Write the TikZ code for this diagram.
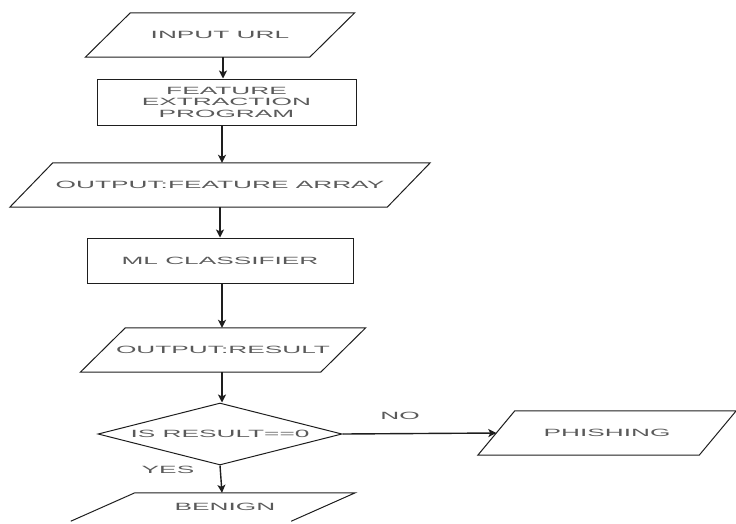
\documentclass[tikz,border=0pt]{standalone}
\usepackage{fontspec}
\setmainfont[FakeStretch=2.5]{Liberation Sans}
\usetikzlibrary{arrows.meta,shapes.geometric}
\definecolor{txt}{HTML}{5A5A5A}
\definecolor{ln}{HTML}{1E1E1E}
\tikzset{
  base/.style={inner sep=0pt, text=txt, align=center,
    font=\fontsize{10.5}{11.5}\selectfont},
  box/.style={base, draw=ln, line width=1pt, rectangle},
  io/.style={base, rectangle},
  dec/.style={base, draw=ln, line width=1pt, diamond, aspect=3.9},
  edge/.style={draw=ln, line width=1.4pt, -{Stealth[length=8pt,width=8pt,inset=2pt]}},
  shapeline/.style={draw=ln, line width=1pt, line join=miter},
  lbl/.style={text=txt, font=\fontsize{10.5}{11.5}\selectfont, inner sep=0pt}
}
\begin{document}
\begin{tikzpicture}[x=1pt,y=-1pt]
\useasboundingbox (0,0) rectangle (736,523);
% nodes
\node[io, minimum width=224, minimum height=44] (url) at (220,35) {INPUT URL};
\node[box, minimum width=259, minimum height=46] (fe) at (226.5,102) {FEATURE\\EXTRACTION\\PROGRAM};
\node[io, minimum width=377, minimum height=44] (fa) at (220,185) {OUTPUT:FEATURE ARRAY};
\node[box, minimum width=266, minimum height=45] (ml) at (220,260.5) {ML CLASSIFIER};
\node[io, minimum width=240, minimum height=44] (res) at (223,350) {OUTPUT:RESULT};
\node[dec, minimum width=244, minimum height=62] (is) at (220,434) {IS RESULT==0};
\node[io, minimum width=221, minimum height=44] (ph) at (607,433) {PHISHING};
\node[io, minimum width=220, minimum height=28] (bn) at (225,507) {BENIGN};
% parallelograms
\draw[shapeline] ([xshift=22.5]url.north west) -- ([xshift=22.5]url.north east) -- ([xshift=-22.5]url.south east) -- ([xshift=-22.5]url.south west) -- cycle;
\draw[shapeline] ([xshift=21.5]fa.north west) -- ([xshift=21.5]fa.north east) -- ([xshift=-21.5]fa.south east) -- ([xshift=-21.5]fa.south west) -- cycle;
\draw[shapeline] ([xshift=22.5]res.north west) -- ([xshift=22.5]res.north east) -- ([xshift=-22.5]res.south east) -- ([xshift=-22.5]res.south west) -- cycle;
\draw[shapeline] ([xshift=18.5]ph.north west) -- ([xshift=18.5]ph.north east) -- ([xshift=-18.5]ph.south east) -- ([xshift=-18.5]ph.south west) -- cycle;
\draw[shapeline] ([xshift=-44]bn.south west) -- ([xshift=20]bn.north west) -- ([xshift=20]bn.north east) -- ([xshift=-44]bn.south east);
% connectors
\draw[edge] ([xshift=3]url.south) -- ([xshift=3]url.south |- fe.north);
\draw[edge] ([xshift=-4.5]fe.south) -- ([xshift=-4.5]fe.south |- fa.north);
\draw[edge] (fa.south) -- (fa.south |- ml.north);
\draw[edge] ([xshift=2]ml.south) -- ([xshift=2]ml.south |- res.north);
\draw[edge] ([xshift=-1]res.south) -- ([xshift=-1]res.south |- is.north);
\draw[edge] (is.east) -- (ph.west);
\draw[edge] (is.south) -- ([xshift=-3]bn.north);
% labels
\node[lbl] (no) at (400,416) {NO};
\node[lbl] (yes) at (168,470) {YES};
\end{tikzpicture}
\end{document}
